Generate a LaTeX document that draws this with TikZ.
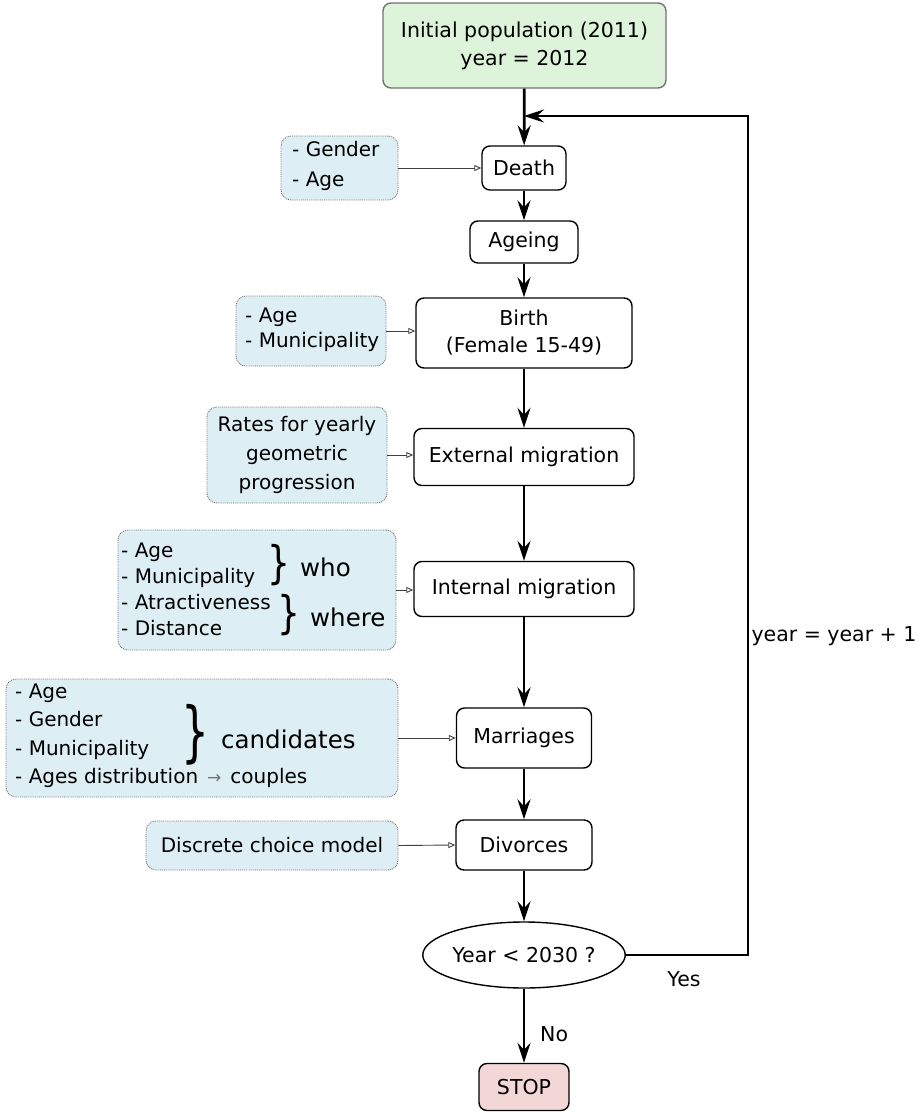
\documentclass[tikz,border=0pt]{standalone}
\usepackage{fontspec,graphicx}
\setmainfont{DejaVu Sans}
\usetikzlibrary{arrows.meta,positioning,shapes.geometric}
\definecolor{inigreen}{HTML}{DDF4DA}
\definecolor{infoblue}{HTML}{DDEEF5}
\definecolor{stoppink}{HTML}{F3D6D6}
\newcommand{\brc}[2]{\scalebox{1}[#2]{\fontsize{#1}{#1}\selectfont\}}}
\tikzset{p/.style={draw,line width=1.4pt,rounded corners=8pt,fill=white,align=center,inner sep=0pt},
 i/.style={draw=black!55,densely dotted,line width=0.9pt,rounded corners=10pt,fill=infoblue,inner sep=0pt},
 t/.style={align=left,inner sep=0pt,font=\fontsize{20}{27}\selectfont},
 big/.style={inner sep=0pt,font=\fontsize{24.5}{24}\selectfont},
 brace/.style={inner sep=0pt},
 flow/.style={-{Stealth[length=20pt,width=13pt,inset=7pt]},line width=2.8pt},
 feed/.style={-{Triangle[open,length=7pt,width=6pt]},line width=0.9pt,draw=black!75},
 lbl/.style={inner sep=0pt,font=\fontsize{20.5}{22}\selectfont}}

\begin{document}
\begin{tikzpicture}[x=1pt,y=-1pt,font=\fontsize{20.5}{28}\selectfont]
\useasboundingbox (0,0) rectangle (921,1112);
% main chain
\node[p,draw=black!55,fill=inigreen,minimum width=283pt,minimum height=85pt](init) at (524.5,45.5){Initial population (2011)\\year = 2012};
\node[p,minimum width=84pt,minimum height=44pt](death) at (524,168){Death};
\node[p,minimum width=108pt,minimum height=42pt](age) at (524,242){Ageing};
\node[p,minimum width=216pt,minimum height=70pt,font=\fontsize{20.5}{27}\selectfont](birth) at (524,333){Birth\\(Female 15-49)};
\node[p,minimum width=220pt,minimum height=57pt](ext) at (524,457){External migration};
\node[p,minimum width=220pt,minimum height=55pt](int) at (524,589){Internal migration};
\node[p,minimum width=135pt,minimum height=60pt](mar) at (524,738){Marriages};
\node[p,minimum width=136pt,minimum height=50pt](div) at (524,845){Divorces};
\node[ellipse,draw,line width=1.4pt,minimum width=194pt,minimum height=66pt,inner sep=0pt](test) at (524,955){Year < 2030 ?};
\node[p,fill=stoppink,minimum width=90pt,minimum height=47pt](stop) at (524,1087){STOP};
\draw[flow](init)--(death);\draw[flow](death)--(age);\draw[flow](age)--(birth);
\draw[flow](birth)--(ext);\draw[flow](ext)--(int);\draw[flow](int)--(mar);
\draw[flow](mar)--(div);\draw[flow](div)--(test);\draw[flow](test)--(stop);
% loop back
\coordinate(corner) at (748,116);\coordinate(join) at (524,116);
\draw[flow](test.east)-|(corner)--(join);
\node[lbl](inc) at (834,636){year = year + 1};
\node[lbl](yes) at (684,979){Yes};
\node[lbl,anchor=west](no) at (540,1034){No};
% inputs
\node[i,minimum width=117pt,minimum height=64pt](in1) at (339.5,168){};
\node[t,anchor=west,font=\fontsize{20}{30}\selectfont](tx1) at (292,166){- Gender\\- Age};
\node[i,minimum width=150pt,minimum height=70pt](in2) at (311,331){};
\node[t,anchor=west,font=\fontsize{20}{25}\selectfont](tx2) at (245,330){- Age\\- Municipality};
\node[i,minimum width=180pt,minimum height=96pt](in3) at (297,455){};
\node[t,align=center,font=\fontsize{20}{29}\selectfont](tx3) at (297,455){Rates for yearly\\geometric\\progression};
\node[i,minimum width=278pt,minimum height=120pt](in4) at (257,590){};
\node[t,anchor=west,font=\fontsize{20}{26}\selectfont](tx4) at (121,589){- Age\\- Municipality\\- Atractiveness\\- Distance};
\node[brace](br1) at (279,565){\brc{36}{1.25}};
\node[big,anchor=west](who) at (300,567){who};
\node[brace](br2) at (289,615){\brc{36}{1.25}};
\node[big,anchor=west](where) at (310,617){where};
\node[i,minimum width=392pt,minimum height=118pt](in5) at (202,738){};
\node[t,anchor=west,font=\fontsize{20}{28.5}\selectfont](tx5) at (15,736){- Age\\- Gender\\- Municipality\\- Ages distribution\hspace{9pt}{\color{black!55}\fontsize{17}{17}\selectfont→}\hspace{9pt}couples};
\node[brace](br3) at (195,735){\brc{44}{1.5}};
\node[big,anchor=west](cand) at (221,739){candidates};
\node[i,minimum width=252pt,minimum height=49pt](in6) at (272,845.5){};
\node[t](tx6) at (272,845.5){Discrete choice model};
\draw[feed](in1.east)--(death.west);\draw[feed](in2.east)--(in2.east-|birth.west);
\draw[feed](in3.east)--(in3.east-|ext.west);\draw[feed](in4.east)--(in4.east-|int.west);
\draw[feed](in5.east)--(mar.west);\draw[feed](in6.east)--(div.west);
\end{tikzpicture}
\end{document}
